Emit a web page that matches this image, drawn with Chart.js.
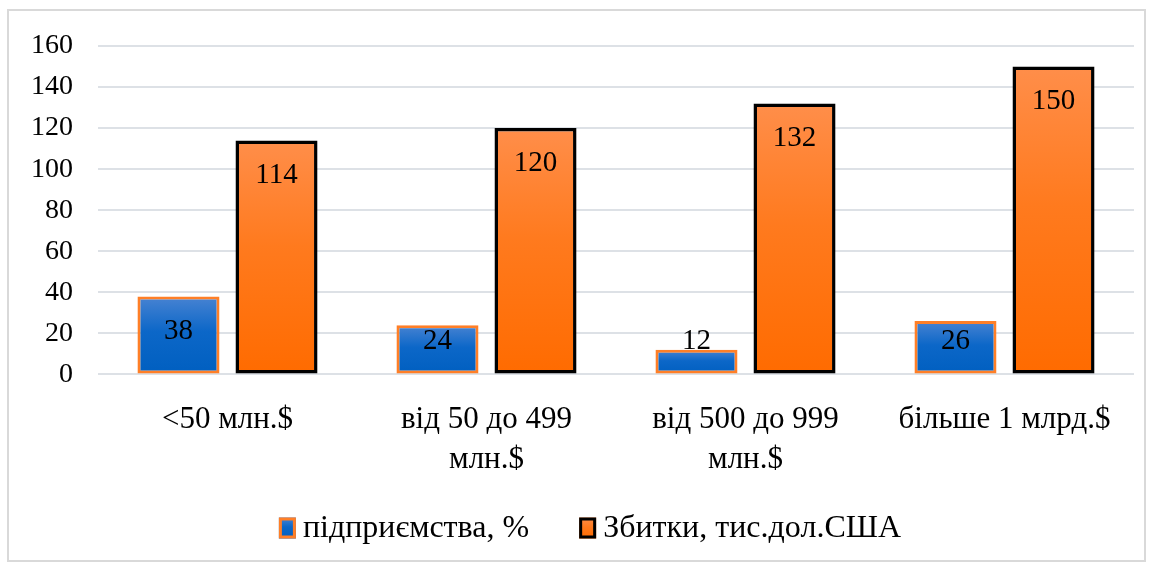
<!DOCTYPE html>
<html>
<head>
<meta charset="utf-8">
<script src="https://cdn.jsdelivr.net/npm/chart.js@4.4.1/dist/chart.umd.min.js"></script>
<style>
  html, body { margin: 0; padding: 0; background: #ffffff; }
  #wrap { position: relative; width: 1153px; height: 569px; }
  #probe { position: absolute; left: -9999px; top: 0; font-family: 'Liberation Serif'; font-size: 30px; }
</style>
</head>
<body>
<div id="wrap"><canvas id="c" width="1153" height="569"></canvas></div>
<div id="probe">160 підприємства <50 млн.$</div>
<script>
const categories = [
  ['<50 млн.$'],
  ['від 50 до 499', 'млн.$'],
  ['від 500 до 999', 'млн.$'],
  ['більше 1 млрд.$']
];
const seriesNames = ['підприємства, %', 'Збитки, тис.дол.США'];
const enterprisesPct = [38, 24, 12, 26];
const lossesThousandUSD = [114, 120, 132, 150];
const yTicks = [0, 20, 40, 60, 80, 100, 120, 140, 160];

const FONT = "'Liberation Serif', 'DejaVu Serif', serif";
const BLUE_STOPS = ['#4883d2', '#0c67c8', '#005fc0'];
const ORANGE_STOPS = ['#ff8e4a', '#ff7a1e', '#ff6b00'];

function gradientFor(c, top, bottom, stops) {
  const g = c.createLinearGradient(0, top, 0, bottom);
  g.addColorStop(0, stops[0]);
  g.addColorStop(0.45, stops[1]);
  g.addColorStop(1, stops[2]);
  return g;
}

function barGradient(ctx, stops) {
  const chart = ctx.chart;
  if (!chart.chartArea || !chart.scales.y || ctx.raw === undefined) return stops[2];
  const y = chart.scales.y;
  const top = y.getPixelForValue(ctx.raw);
  const bottom = y.getPixelForValue(0);
  if (!isFinite(top) || !isFinite(bottom) || top === bottom) return stops[2];
  return gradientFor(chart.ctx, top, bottom, stops);
}

const outerBorder = {
  id: 'outerBorder',
  beforeDraw(chart) {
    const c = chart.ctx;
    c.save();
    c.fillStyle = '#ffffff';
    c.fillRect(0, 0, chart.width, chart.height);
    c.strokeStyle = '#d9d9d9';
    c.lineWidth = 2;
    c.strokeRect(8, 10, 1137, 551);
    c.restore();
  }
};

const valueLabels = {
  id: 'valueLabels',
  afterDatasetsDraw(chart) {
    const c = chart.ctx;
    c.save();
    c.font = '29px ' + FONT;
    c.fillStyle = '#000000';
    c.textAlign = 'center';
    c.textBaseline = 'middle';
    chart.data.datasets.forEach((ds, di) => {
      const meta = chart.getDatasetMeta(di);
      meta.data.forEach((bar, i) => {
        const y = Math.min(bar.y + 35, bar.base - 32);
        c.fillText(String(ds.data[i]), bar.x, y);
      });
    });
    c.restore();
  }
};

const customLegend = {
  id: 'customLegend',
  afterDraw(chart) {
    const c = chart.ctx;
    c.save();
    c.font = '32px ' + FONT;
    c.textBaseline = 'middle';
    c.textAlign = 'left';
    const boxW = 17, boxH = 21, gapText = 7, gapItem = 50;
    const items = chart.data.datasets.map((ds, i) => ({
      text: ds.label,
      stops: i === 0 ? BLUE_STOPS : ORANGE_STOPS,
      border: ds.borderColor,
      w: boxW + gapText + c.measureText(ds.label).width
    }));
    const total = items.reduce((s, it) => s + it.w, 0) + gapItem * (items.length - 1);
    let x = 590 - total / 2;
    const cy = 528;
    items.forEach(it => {
      const top = cy - boxH / 2;
      c.fillStyle = gradientFor(c, top, top + boxH, it.stops);
      c.fillRect(x, top, boxW, boxH);
      c.strokeStyle = it.border;
      c.lineWidth = 3;
      c.strokeRect(x + 1.5, top + 1.5, boxW - 3, boxH - 3);
      c.fillStyle = '#000000';
      c.fillText(it.text, x + boxW + gapText, cy + 1);
      x += it.w + gapItem;
    });
    c.restore();
  }
};

function build() {
  new Chart(document.getElementById('c'), {
    type: 'bar',
    data: {
      labels: categories,
      datasets: [
        {
          label: seriesNames[0],
          data: enterprisesPct,
          backgroundColor: (ctx) => barGradient(ctx, BLUE_STOPS),
          borderColor: '#ff7f27',
          borderWidth: 3,
          borderSkipped: false,
          categoryPercentage: 0.757,
          barPercentage: 0.837
        },
        {
          label: seriesNames[1],
          data: lossesThousandUSD,
          backgroundColor: (ctx) => barGradient(ctx, ORANGE_STOPS),
          borderColor: '#000000',
          borderWidth: 3.5,
          borderSkipped: false,
          categoryPercentage: 0.757,
          barPercentage: 0.837
        }
      ]
    },
    options: {
      responsive: false,
      animation: false,
      devicePixelRatio: 1,
      layout: { padding: { left: 6, right: 19, top: 46, bottom: 72 } },
      plugins: {
        tooltip: { enabled: false },
        legend: { display: false }
      },
      scales: {
        x: {
          grid: { display: false },
          border: { display: false },
          ticks: {
            font: { family: FONT, size: 31, lineHeight: 1.3 },
            color: '#000000',
            padding: 17,
            maxRotation: 0,
            autoSkip: false
          }
        },
        y: {
          min: 0,
          max: 160,
          afterBuildTicks(scale) { scale.ticks = yTicks.map(v => ({ value: v })); },
          grid: { color: '#dde1e6', lineWidth: 2, drawTicks: false },
          border: { display: false },
          ticks: {
            font: { family: FONT, size: 28 },
            color: '#000000',
            padding: 25
          }
        }
      }
    },
    plugins: [outerBorder, valueLabels, customLegend]
  });
}

const loads = [
  document.fonts.load("31px 'Liberation Serif'", 'підприємства'),
  document.fonts.load("28px 'Liberation Serif'", '0123456789')
];
Promise.all(loads).then(build, build);
</script>
</body>
</html>
